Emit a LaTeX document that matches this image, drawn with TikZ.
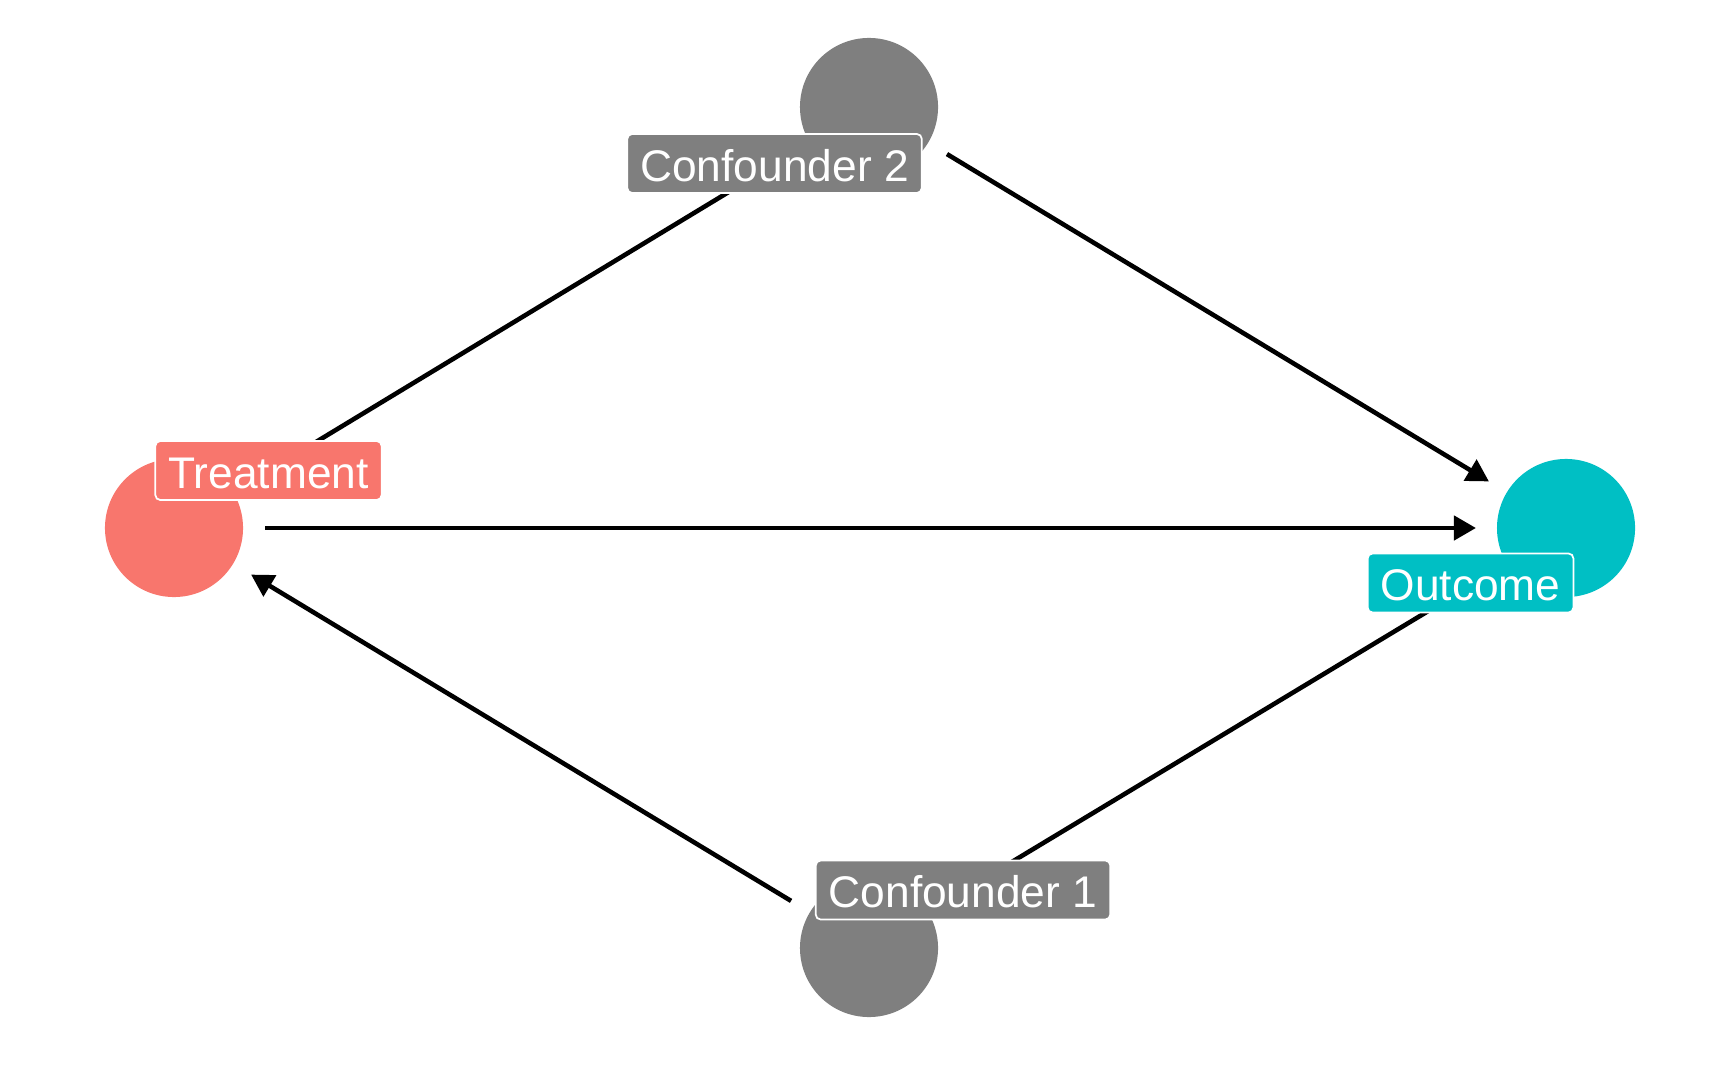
\documentclass[tikz,border=0pt]{standalone}
\usepackage{fontspec}
\setmainfont{Liberation Sans}
\usetikzlibrary{arrows.meta}
\definecolor{treatred}{HTML}{F8766D}
\definecolor{outcyan}{HTML}{00BFC4}
\definecolor{confgray}{HTML}{7F7F7F}

\tikzset{
  dot/.style={circle, minimum size=1.38cm, inner sep=0pt, outer sep=0pt, fill=#1},
  tag/.style={fill=#1, draw=white, line width=0.5pt, rounded corners=1.4pt,
    text=white, font=\fontsize{12.6}{14}\selectfont,
    inner xsep=0.13cm, inner ysep=0pt, text height=0.47cm, text depth=0.12cm},
  edge/.style={black, line width=1.3pt, shorten >=0.21cm, shorten <=0.22cm}
}

\begin{document}
\begin{tikzpicture}[x=0.01cm, y=-0.01cm]
\useasboundingbox (0,0) rectangle (1728,1067);
% variables
\node[dot=treatred] (treat) at (174,528) {};
\node[dot=outcyan] (outc) at (1566,528) {};
\node[dot=confgray] (conftwo) at (869,107) {};
\node[dot=confgray] (confone) at (869,948) {};
% paths
\draw[edge, -{Triangle[length=0.22cm,width=0.24cm]}] (treat) -- (outc);
\draw[edge, -{Triangle[length=0.22cm,width=0.24cm]}] (conftwo) -- (outc);
\draw[edge, -{Triangle[length=0.22cm,width=0.24cm]}] (conftwo) -- (treat);
\draw[edge, -{Triangle[length=0.22cm,width=0.24cm]}] (confone) -- (treat);
\draw[edge, -{Triangle[length=0.22cm,width=0.24cm]}] (confone) -- (outc);
% labels
\node[tag=treatred] (treatlab) at (268.5,470.5) {Treatment};
\node[tag=outcyan] (outclab) at (1470.5,583) {Outcome};
\node[tag=confgray] (conftwolab) at (774.5,163.5) {Confounder 2};
\node[tag=confgray] (confonelab) at (963,890) {Confounder 1};
\end{tikzpicture}
\end{document}
